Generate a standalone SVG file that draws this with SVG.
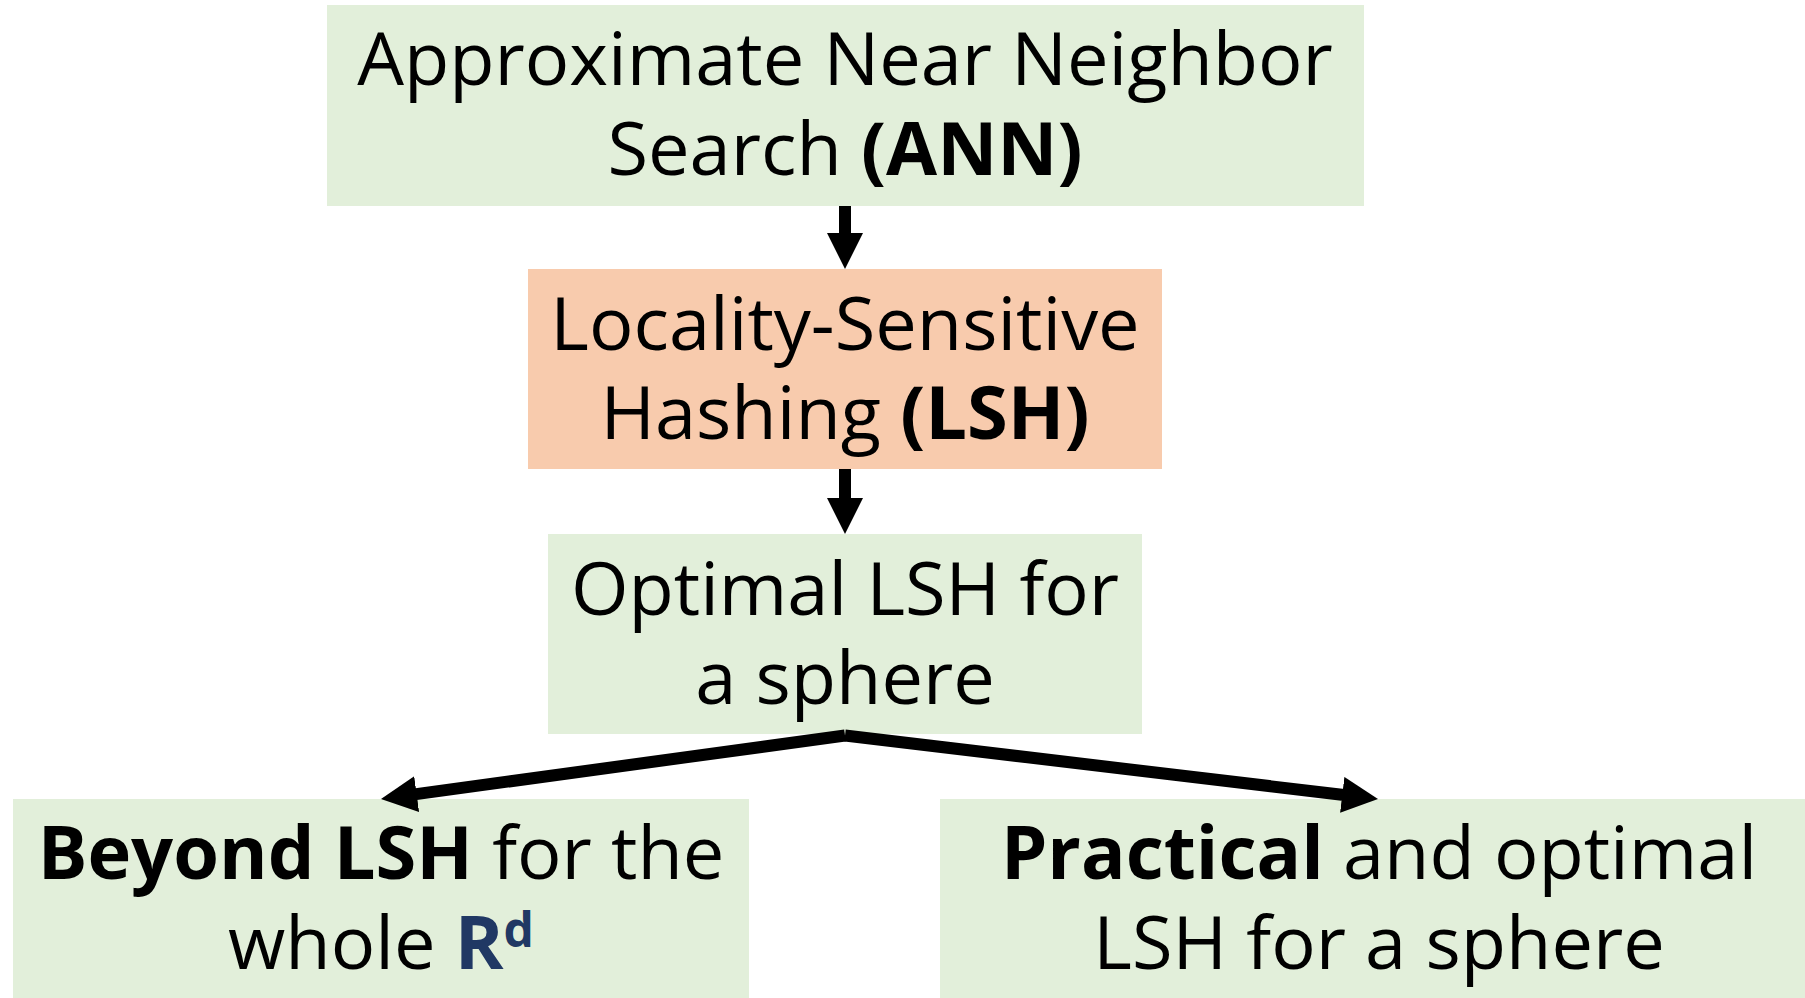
<svg xmlns="http://www.w3.org/2000/svg" width="1805" height="998" viewBox="0 0 1805 998">
  <defs>
    <style>
      .green { fill: #E2EFDA; }
      .salmon { fill: #F8CBAD; }
      .label { font-family: "Open Sans", "Noto Sans", "Liberation Sans", sans-serif; font-size: 74px; fill: #000000; text-anchor: middle; }
      .b { font-weight: 700; }
      .blue { fill: #203864; }
      .link { stroke: #000000; stroke-width: 12; fill: none; marker-end: url(#head); }
    </style>
    <!-- solid triangular arrowhead; the tip sits 30px beyond the line end -->
    <marker id="head" markerUnits="userSpaceOnUse" markerWidth="36" markerHeight="36" refX="6" refY="18" orient="auto" viewBox="0 0 36 36">
      <path d="M0,0 L36,18 L0,36 Z" fill="#000000"/>
    </marker>
  </defs>

  <rect x="0" y="0" width="1805" height="998" fill="#FFFFFF"/>

  <g id="node-ann">
    <rect class="green" x="327" y="5" width="1037" height="201"/>
    <text class="label" x="845" y="85">Approximate Near Neighbor</text>
    <text class="label" x="845" y="175">Search <tspan class="b">(ANN)</tspan></text>
  </g>

  <g id="node-lsh">
    <rect class="salmon" x="528" y="269" width="634" height="200"/>
    <text class="label" x="845" y="350">Locality-Sensitive</text>
    <text class="label" x="845" y="439">Hashing <tspan class="b">(LSH)</tspan></text>
  </g>

  <g id="node-optimal">
    <rect class="green" x="548" y="534" width="594" height="200"/>
    <text class="label" x="845" y="615">Optimal LSH for</text>
    <text class="label" x="845" y="704">a sphere</text>
  </g>

  <g id="node-beyond">
    <rect class="green" x="13" y="799" width="736" height="199"/>
    <text class="label" x="381" y="879"><tspan class="b">Beyond LSH</tspan> for the</text>
    <text class="label" x="381" y="969">whole <tspan class="b blue">R</tspan><tspan class="b blue" font-size="48" dy="-22">d</tspan></text>
  </g>

  <g id="node-practical">
    <rect class="green" x="940" y="799" width="865" height="199"/>
    <text class="label" x="1379" y="879"><tspan class="b">Practical</tspan> and optimal</text>
    <text class="label" x="1379" y="969">LSH for a sphere</text>
  </g>

  <g id="connectors">
    <line class="link" x1="845" y1="206" x2="845" y2="239"/>
    <line class="link" x1="845" y1="469" x2="845" y2="504"/>
    <line class="link" x1="845" y1="735.5" x2="410.7" y2="794.9"/>
    <line class="link" x1="845" y1="735.5" x2="1348.2" y2="795.5"/>
  </g>
</svg>
